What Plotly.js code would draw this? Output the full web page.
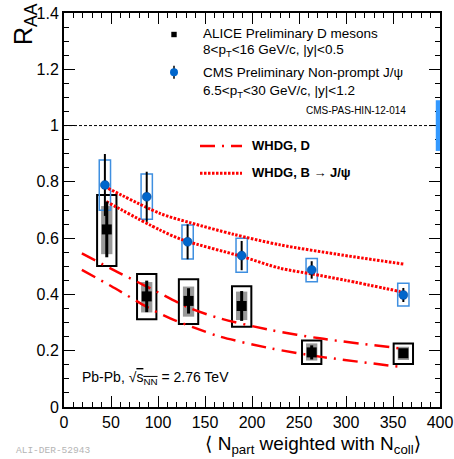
<!DOCTYPE html>
<html>
<head>
<meta charset="utf-8">
<script src="https://cdn.plot.ly/plotly-3.0.1.min.js"></script>
<style>
  html, body { margin: 0; padding: 0; background: #fff; }
  #chart { width: 454px; height: 459px; }
</style>
</head>
<body>
<div id="chart"></div>
<script>
// ALICE D mesons, 8 < pT < 16 GeV/c, |y| < 0.5
const aliceX     = [45.5, 88, 132.5, 189, 263.5, 361];
const aliceY     = [0.631, 0.393, 0.377, 0.359, 0.194, 0.191];
const aliceStat  = [0.099, 0.056, 0.045, 0.053, 0.025, 0.012];
const aliceSysHi = [0.753, 0.473, 0.454, 0.429, 0.236, 0.226];
const aliceSysLo = [0.501, 0.312, 0.295, 0.285, 0.153, 0.153];
const aliceFdHi  = [0.714, 0.444, 0.428, 0.410, 0.226, 0.214];
const aliceFdLo  = [0.543, 0.336, 0.321, 0.309, 0.165, 0.167];

// CMS non-prompt J/psi, 6.5 < pT < 30 GeV/c, |y| < 1.2
const cmsX     = [43.5, 88, 131.5, 189, 263.5, 361];
const cmsY     = [0.789, 0.747, 0.587, 0.538, 0.487, 0.398];
const cmsStat  = [0.110, 0.089, 0.062, 0.052, 0.031, 0.025];
const cmsSysHi = [0.878, 0.828, 0.647, 0.600, 0.528, 0.440];
const cmsSysLo = [0.699, 0.667, 0.526, 0.479, 0.445, 0.359];
const cmsGlobalUnc = 0.09;

// WHDG predictions (band edges)
const whdgDUpX = [19, 56, 88, 134, 166, 219, 272, 356];
const whdgDUpY = [0.546, 0.481, 0.428, 0.351, 0.315, 0.274, 0.244, 0.209];
const whdgDLoX = [19, 50, 88, 113, 140, 166, 219, 272, 357];
const whdgDLoY = [0.487, 0.430, 0.356, 0.315, 0.280, 0.250, 0.209, 0.179, 0.143];
const whdgBUpX = [47, 102, 134, 180, 230, 290, 361];
const whdgBUpY = [0.777, 0.688, 0.655, 0.614, 0.576, 0.543, 0.508];
const whdgBLoX = [45, 102, 127, 189, 230, 263, 300, 358];
const whdgBLoY = [0.730, 0.629, 0.593, 0.535, 0.493, 0.473, 0.450, 0.410];

const FONT = 'Liberation Sans, Arial, Helvetica, sans-serif';
const RED = '#ff0000';
const CMS_FILL = '#0066cc';
const CMS_BOX = '#3f8fe0';
const DASHDOT = '15px,7px,2px,7px';
const DOTTED = '2.5px,1.5px';

const W = 454, H = 459;
const M = { l: 64, r: 14, t: 13, b: 52 };
const plotW = W - M.l - M.r, plotH = H - M.t - M.b;
const px = v => (v - M.l) / plotW;          // pixel column -> paper x
const py = v => (H - M.b - v) / plotH;      // pixel row -> paper y

// systematic boxes
const ALICE_BOX_HALF = 10.3, ALICE_FD_HALF = 6, CMS_BOX_HALF = 6;
const shapes = [];
aliceX.forEach((x, i) => {
  shapes.push({ type: 'rect', xref: 'x', yref: 'y', layer: 'below',
    x0: x - ALICE_BOX_HALF, x1: x + ALICE_BOX_HALF, y0: aliceSysLo[i], y1: aliceSysHi[i],
    line: { color: '#000', width: 2 }, fillcolor: 'rgba(0,0,0,0)' });
  shapes.push({ type: 'rect', xref: 'x', yref: 'y', layer: 'below',
    x0: x - ALICE_FD_HALF, x1: x + ALICE_FD_HALF, y0: aliceFdLo[i], y1: aliceFdHi[i],
    line: { width: 0 }, fillcolor: '#999999' });
});
cmsX.forEach((x, i) => {
  shapes.push({ type: 'rect', xref: 'x', yref: 'y', layer: 'below',
    x0: x - CMS_BOX_HALF, x1: x + CMS_BOX_HALF, y0: cmsSysLo[i], y1: cmsSysHi[i],
    line: { color: CMS_BOX, width: 1.5 }, fillcolor: 'rgba(0,0,0,0)' });
});
// unity reference
shapes.push({ type: 'line', xref: 'x', yref: 'y', x0: 0, x1: 400, y0: 1, y1: 1,
  line: { color: '#000', width: 1, dash: '3px,2px' } });
// CMS global normalisation uncertainty
shapes.push({ type: 'rect', xref: 'x', yref: 'y', x0: 395.5, x1: 400,
  y0: 1 - cmsGlobalUnc, y1: 1 + cmsGlobalUnc, line: { width: 0 }, fillcolor: '#3399ff' });

// legend keys
shapes.push({ type: 'rect', xref: 'paper', yref: 'paper', xsizemode: 'pixel', ysizemode: 'pixel',
  xanchor: px(174), yanchor: py(34.5), x0: -2.7, x1: 2.7, y0: -2.7, y1: 2.7,
  line: { width: 0 }, fillcolor: '#000' });
shapes.push({ type: 'line', xref: 'paper', yref: 'paper', xsizemode: 'pixel', ysizemode: 'pixel',
  xanchor: px(174), yanchor: py(72.3), x0: 0, x1: 0, y0: -6.5, y1: 6.5,
  line: { color: '#000', width: 1.5 } });
shapes.push({ type: 'circle', xref: 'paper', yref: 'paper', xsizemode: 'pixel', ysizemode: 'pixel',
  xanchor: px(174), yanchor: py(72.3), x0: -4, x1: 4, y0: -4, y1: 4,
  line: { width: 0 }, fillcolor: CMS_FILL });
shapes.push({ type: 'line', xref: 'paper', yref: 'paper', x0: px(200), x1: px(242),
  y0: py(146), y1: py(146), line: { color: RED, width: 2.5, dash: DASHDOT } });
shapes.push({ type: 'line', xref: 'paper', yref: 'paper', x0: px(200), x1: px(242),
  y0: py(173.3), y1: py(173.3), line: { color: RED, width: 3, dash: DOTTED } });

const curve = (x, y, dash, width) => ({
  x, y, type: 'scatter', mode: 'lines', hoverinfo: 'skip', showlegend: false,
  line: { color: RED, width, dash, shape: 'spline', smoothing: 0.8 }
});

const traces = [
  curve(whdgDUpX, whdgDUpY, DASHDOT, 2.5),
  curve(whdgDLoX, whdgDLoY, DASHDOT, 2.5),
  curve(whdgBUpX, whdgBUpY, DOTTED, 3),
  curve(whdgBLoX, whdgBLoY, DOTTED, 3),
  {
    x: aliceX, y: aliceY, type: 'scatter', mode: 'markers', showlegend: false,
    marker: { symbol: 'square', size: 10, color: '#000' },
    error_y: { type: 'data', array: aliceStat, visible: true, thickness: 3, width: 0, color: '#000' }
  },
  {
    x: cmsX, y: cmsY, type: 'scatter', mode: 'markers', showlegend: false,
    marker: { symbol: 'circle', size: 9, color: CMS_FILL, line: { color: '#00408a', width: 0.5 } },
    error_y: { type: 'data', array: cmsStat, visible: true, thickness: 2, width: 0, color: '#000' }
  }
];

const note = (text, x, y, size, extra) => Object.assign({
  text, xref: 'paper', yref: 'paper', x: px(x), y: py(y),
  xanchor: 'left', yanchor: 'middle', showarrow: false,
  font: { family: FONT, size, color: '#000' }
}, extra || {});

const BRA = '<span style="font-family:DejaVu Sans">⟨</span>';
const KET = '<span style="font-family:DejaVu Sans">⟩</span>';

const annotations = [
  note('ALICE Preliminary D mesons', 201, 33.8, 13.5),
  note('8&lt;p<sub>T</sub>&lt;16 GeV/c, |y|&lt;0.5', 201, 50.5, 13.5),
  note('CMS Preliminary Non-prompt J/ψ', 201, 72.2, 13.5),
  note('6.5&lt;p<sub>T</sub>&lt;30 GeV/c, |y|&lt;1.2', 201, 91.2, 13.5),
  note('CMS-PAS-HIN-12-014', 304, 110, 10),
  note('<b>WHDG, D</b>', 249.5, 145.5, 13),
  note('<b>WHDG, B → J/ψ</b>', 249.5, 172.5, 13),
  note('Pb-Pb, √<span style="text-decoration:overline">s<sub>NN</sub></span> = 2.76 TeV', 79.5, 378, 14),
  note(BRA + ' N<sub>part</sub> weighted with N<sub>coll</sub>' + KET, 203, 444.5, 19),
  note('R<sub>AA</sub>', 25, 24, 25, { xanchor: 'center', textangle: -90 }),
  note('ALI-DER-52943', 14, 450, 9.5, { font: { family: 'Liberation Mono, DejaVu Sans Mono, monospace', size: 9.5, color: '#b4b4b4' } })
];

const axisBase = {
  showgrid: false, zeroline: false, showline: true, linecolor: '#000', linewidth: 2,
  mirror: 'ticks', ticks: 'inside', ticklen: 11, tickwidth: 1, tickcolor: '#000',
  tickfont: { family: FONT, size: 16, color: '#000' }, fixedrange: true
};

const layout = {
  width: W, height: H,
  margin: M,
  paper_bgcolor: '#fff', plot_bgcolor: '#fff',
  showlegend: false,
  xaxis: Object.assign({}, axisBase, {
    range: [0, 400], tick0: 0, dtick: 50,
    minor: { ticks: 'inside', dtick: 10, ticklen: 5, tickwidth: 1, tickcolor: '#000' }
  }),
  yaxis: Object.assign({}, axisBase, {
    range: [0, 1.4], tick0: 0, dtick: 0.2,
    minor: { ticks: 'inside', dtick: 0.05, ticklen: 5, tickwidth: 1, tickcolor: '#000' }
  }),
  shapes, annotations
};

Plotly.newPlot('chart', traces, layout, { displayModeBar: false, staticPlot: true });
</script>
</body>
</html>
